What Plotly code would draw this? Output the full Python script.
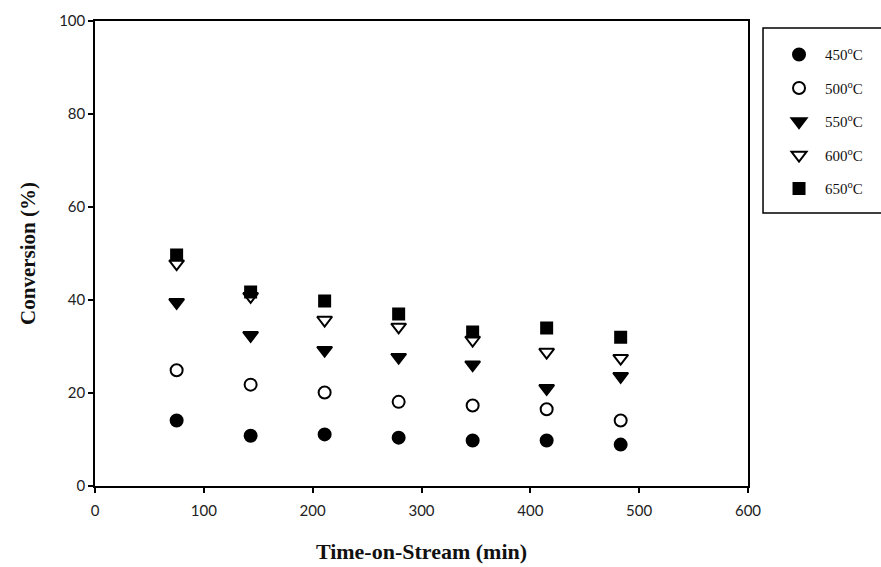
import plotly.graph_objects as go

time_min = [75, 143, 211, 279, 347, 415, 483]
conv_450 = [14.1, 10.8, 11.1, 10.4, 9.8, 9.8, 8.9]
conv_500 = [24.9, 21.8, 20.1, 18.1, 17.3, 16.5, 14.1]
conv_550 = [39.5, 32.4, 29.2, 27.7, 26.1, 21.0, 23.6]
conv_600 = [47.8, 40.8, 35.7, 34.2, 31.4, 28.8, 27.5]
conv_650 = [49.7, 41.7, 39.8, 37.0, 33.1, 34.0, 32.0]
labels = ["450<sup>o</sup>C", "500<sup>o</sup>C", "550<sup>o</sup>C", "600<sup>o</sup>C", "650<sup>o</sup>C"]

series = [
    (conv_450, "circle", 12),
    (conv_500, "circle-open", 12),
    (conv_550, "triangle-down", 13),
    (conv_600, "triangle-down-open", 13),
    (conv_650, "square", 11),
]

fig = go.Figure()
for i, (vals, sym, sz) in enumerate(series):
    fig.add_trace(go.Scatter(
        x=time_min, y=vals, mode="markers",
        name=labels[i],
        legendgroup=f"g{i}",
        marker=dict(symbol=sym, size=sz, color="black", line=dict(color="black", width=2)),
    ))

axis_common = dict(
    showline=True, linecolor="black", linewidth=1.5, mirror=True,
    ticks="outside", ticklen=5, tickwidth=1.5, tickcolor="black",
    showgrid=False, zeroline=False, automargin=False,
    tickfont=dict(family="Lato, sans-serif", size=15, color="#222"),
)

# legend frame (extends past the right edge of the page, as in the original)
fig.add_shape(type="rect", xref="paper", yref="paper",
              x0=1.023, x1=1.25, y0=0.587, y1=0.985,
              line=dict(color="black", width=1.5), fillcolor="rgba(0,0,0,0)", layer="above")

fig.update_layout(
    width=881, height=567,
    margin=dict(l=95, r=133, t=21, b=81),
    paper_bgcolor="white", plot_bgcolor="white",
    xaxis=dict(range=[0, 600], tickvals=[0, 100, 200, 300, 400, 500, 600],
               ticklabelstandoff=5,
               title=dict(text="<b>Time-on-Stream (min)</b>",
                          font=dict(family="Liberation Serif, serif", size=22, color="#111"),
                          standoff=26),
               **axis_common),
    yaxis=dict(range=[0, 100], tickvals=[0, 20, 40, 60, 80, 100],
               title=dict(text="<b>Conversion (%)</b>",
                          font=dict(family="Liberation Serif, serif", size=21, color="#111"),
                          standoff=18),
               **axis_common),
    legend=dict(
        x=1.023, y=0.988, xanchor="left", yanchor="top",
        borderwidth=0, bgcolor="rgba(0,0,0,0)",
        font=dict(family="Liberation Serif, serif", size=15, color="#111"),
        title=dict(text="&nbsp;", font=dict(size=9)),
        tracegroupgap=11, itemwidth=42, indentation=10,
    ),
    showlegend=True,
)

fig.write_html("out.html")
